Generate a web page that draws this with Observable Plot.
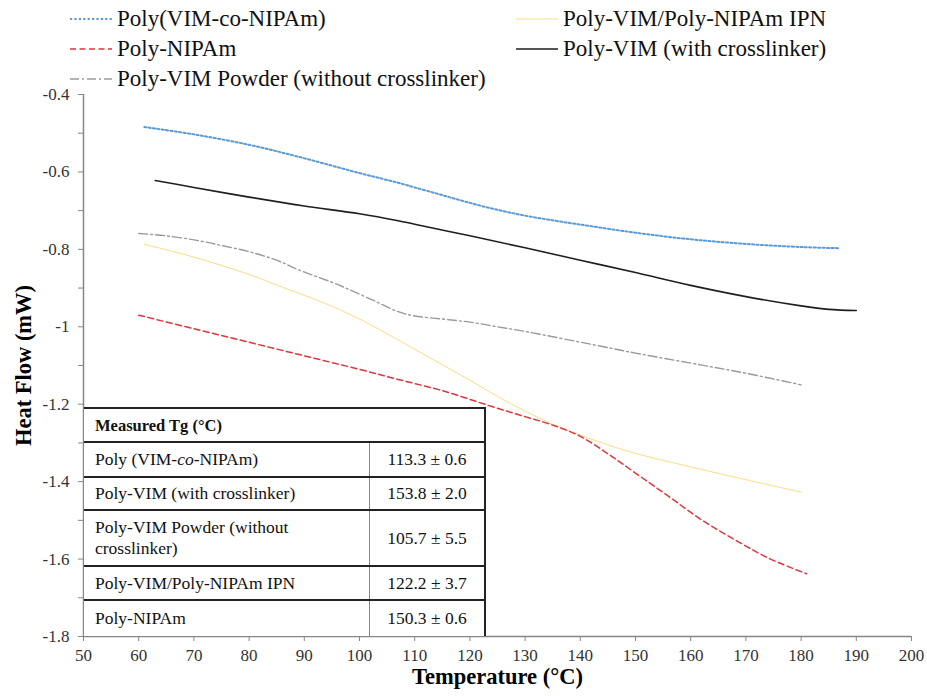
<!DOCTYPE html>
<html>
<head>
<meta charset="utf-8">
<script src="https://cdn.jsdelivr.net/npm/d3@7"></script>
<script src="https://cdn.jsdelivr.net/npm/@observablehq/plot@0.6"></script>
<style>
  body { margin: 0; background: #fff; font-family: "Liberation Serif", "Times New Roman", serif; }
  #wrap { position: relative; width: 927px; height: 696px; overflow: hidden; }
  #legend { position: absolute; left: 0; top: 0; width: 927px; height: 96px; z-index: 2; pointer-events: none; }
  .item { position: absolute; height: 30px; display: flex; align-items: center; font-size: 23px; color: #111; white-space: nowrap;
          font-family: "Liberation Serif", "Times New Roman", serif; }
  .item svg { margin-right: 5px; flex: none; }
  #chart { position: absolute; left: 0; top: 80px; z-index: 1; }
  #chart g[aria-label="x-axis label"] text,
  #chart g[aria-label="y-axis label"] text { font-size: 22.5px; font-weight: bold; fill: #000; }
  #tg { position: absolute; left: 84px; top: 407px; width: 402px; height: 229px; background: #fff; z-index: 3;
        border-top: 2px solid #222; border-right: 2px solid #222; box-sizing: border-box; font-size: 17.5px; color: #111; }
  .row { position: absolute; left: 0; right: 0; box-sizing: border-box; }
  .row.line { border-bottom: 2px solid #222; }
  .lab { position: absolute; left: 11px; top: 0; bottom: 0; width: 250px; display: flex; align-items: center; line-height: 21px; }
  .val { position: absolute; left: 285px; right: 0; top: 0; bottom: 0; display: flex; align-items: center; justify-content: center;
         border-left: 1.5px solid #888; }
  .head { font-weight: bold; font-size: 16.5px; }
</style>
</head>
<body>
<div id="wrap">
  <div id="legend"></div>
  <div id="chart"></div>
  <div id="tg"></div>
</div>
<script>
// DSC traces: temperature (°C) and heat flow (mW) for each sample
const coTemp   = [61, 70, 80, 89, 100, 107, 110, 115, 120, 125, 130, 135, 140, 150, 160, 170, 180, 187];
const coFlow   = [-0.484, -0.503, -0.530, -0.561, -0.603, -0.628, -0.640, -0.660, -0.680, -0.698, -0.713, -0.725, -0.736, -0.757, -0.774, -0.786, -0.794, -0.797];

const ipnTemp  = [61, 70, 80, 87, 93, 100, 107, 110, 115, 120, 125, 130, 135, 140, 145, 150, 160, 170, 180];
const ipnFlow  = [-0.787, -0.820, -0.865, -0.903, -0.935, -0.980, -1.034, -1.058, -1.098, -1.138, -1.180, -1.218, -1.252, -1.280, -1.305, -1.327, -1.362, -1.395, -1.427];

const nipTemp  = [60, 70, 80, 90, 100, 107, 115, 124, 130, 135, 140, 145, 150, 156, 162, 168, 174, 181];
const nipFlow  = [-0.970, -1.005, -1.040, -1.075, -1.110, -1.136, -1.165, -1.206, -1.232, -1.254, -1.283, -1.328, -1.378, -1.438, -1.499, -1.550, -1.597, -1.638];

const vimTemp  = [63, 70, 80, 90, 100, 107, 110, 120, 130, 140, 150, 160, 170, 180, 185, 190];
const vimFlow  = [-0.622, -0.640, -0.665, -0.688, -0.708, -0.726, -0.735, -0.765, -0.796, -0.828, -0.860, -0.893, -0.922, -0.946, -0.955, -0.958];

const powTemp  = [60, 65, 71, 75, 80, 85, 89, 95, 98, 103, 107, 110, 115, 120, 125, 130, 144, 150, 162, 170, 180];
const powFlow  = [-0.759, -0.765, -0.778, -0.790, -0.806, -0.828, -0.853, -0.885, -0.903, -0.935, -0.961, -0.972, -0.980, -0.988, -1.000, -1.012, -1.051, -1.068, -1.099, -1.120, -1.150];

// Axis ticks
const xTicks = [50, 60, 70, 80, 90, 100, 110, 120, 130, 140, 150, 160, 170, 180, 190, 200];
const yTicks = [-0.4, -0.6, -0.8, -1, -1.2, -1.4, -1.6, -1.8];
const yMinorTicks = [-0.5, -0.7, -0.9, -1.1, -1.3, -1.5, -1.7];

// Inset table of glass transition temperatures
const tgSamples = ["Poly (VIM-co-NIPAm)", "Poly-VIM (with crosslinker)", "Poly-VIM Powder (without crosslinker)", "Poly-VIM/Poly-NIPAm IPN", "Poly-NIPAm"];
const tgMean = ["113.3", "153.8", "105.7", "122.2", "150.3"];
const tgErr  = ["0.6", "2.0", "5.5", "3.7", "0.6"];

const series = [
  {name: "Poly(VIM-co-NIPAm)", t: coTemp, f: coFlow, stroke: "#5B9BD5", width: 2, dash: "2.2,2.2"},
  {name: "Poly-VIM/Poly-NIPAm IPN", t: ipnTemp, f: ipnFlow, stroke: "#FFDC82", width: 1, dash: null},
  {name: "Poly-NIPAm", t: nipTemp, f: nipFlow, stroke: "#E0353C", width: 1.5, dash: "6,3.5"},
  {name: "Poly-VIM (with crosslinker)", t: vimTemp, f: vimFlow, stroke: "#1E1E1E", width: 1.6, dash: null},
  {name: "Poly-VIM Powder (without crosslinker)", t: powTemp, f: powFlow, stroke: "#9A9A9A", width: 1.4, dash: "9,3,2,3"}
];

// Legend (two columns, three rows)
const legendPos = [[70, 4], [516, 4], [70, 34], [516, 34], [70, 64]];
const legend = document.getElementById("legend");
series.forEach((s, i) => {
  const div = document.createElement("div");
  div.className = "item";
  div.style.left = legendPos[i][0] + "px";
  div.style.top = legendPos[i][1] + "px";
  div.innerHTML = `<svg width="42" height="6"><line x1="0" x2="42" y1="3" y2="3" stroke="${s.stroke}" stroke-width="${s.width}" ${s.dash ? `stroke-dasharray="${s.dash}"` : ""}/></svg><span>${s.name}</span>`;
  legend.appendChild(div);
});

const grey = "#868686";
const chart = Plot.plot({
  width: 927,
  height: 616,
  marginTop: 14,
  marginLeft: 83,
  marginRight: 16,
  marginBottom: 60,
  x: {domain: [50, 200]},
  y: {domain: [-1.8, -0.4]},
  style: {fontFamily: "'Liberation Serif', 'Times New Roman', serif", fontSize: "17px", color: "#333", background: "transparent"},
  marks: [
    Plot.axisY(yMinorTicks, {tickSize: 5, stroke: grey, tickFormat: () => "", label: null}),
    Plot.axisY(yTicks, {tickSize: 5, tickPadding: 9, stroke: grey, tickFormat: d => String(+d.toFixed(1)),
      label: "Heat Flow (mW)", labelAnchor: "center", labelArrow: "none", labelOffset: 68}),
    Plot.axisX(xTicks, {tickSize: 5, tickPadding: 7, stroke: grey, tickFormat: d => String(d),
      label: "Temperature (°C)", labelAnchor: "center", labelArrow: "none", labelOffset: 47}),
    Plot.ruleX([50], {stroke: grey, strokeWidth: 1.5}),
    Plot.ruleY([-1.8], {stroke: grey, strokeWidth: 1.5}),
    ...series.map(s => Plot.line(s.t.map((t, i) => ({t, f: s.f[i]})), {
      x: "t", y: "f", stroke: s.stroke, strokeWidth: s.width, strokeDasharray: s.dash, curve: "catmull-rom"
    }))
  ]
});
document.getElementById("chart").appendChild(chart);

// Table rows: header then one row per sample
const rowTop = [0, 34, 69, 102, 158, 192];
const rowH = [34, 35, 33, 56, 34, 35];
const tg = document.getElementById("tg");
const head = document.createElement("div");
head.className = "row line";
head.style.top = rowTop[0] + "px"; head.style.height = rowH[0] + "px";
head.innerHTML = `<div class="lab head">Measured Tg (°C)</div>`;
tg.appendChild(head);
tgSamples.forEach((name, i) => {
  const r = document.createElement("div");
  r.className = "row" + (i < tgSamples.length - 1 ? " line" : "");
  r.style.top = rowTop[i + 1] + "px"; r.style.height = rowH[i + 1] + "px";
  const label = name.replace("-co-", "-<i>co</i>-");
  r.innerHTML = `<div class="lab">${label}</div><div class="val">${tgMean[i]} ± ${tgErr[i]}</div>`;
  tg.appendChild(r);
});
</script>
</body>
</html>
